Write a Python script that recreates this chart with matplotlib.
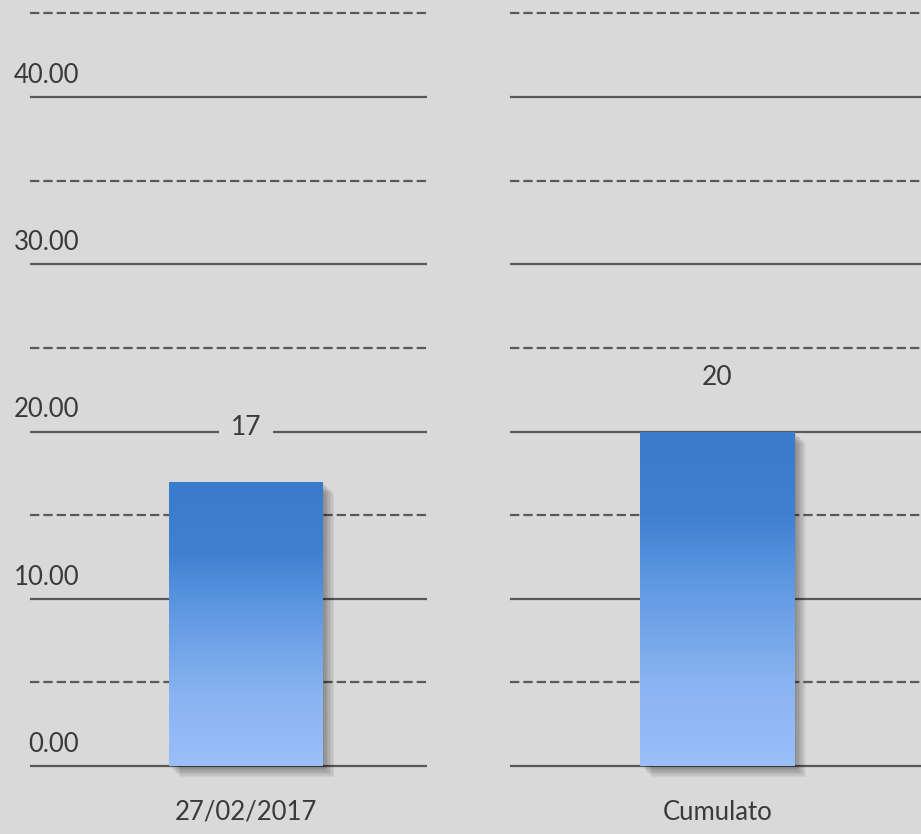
import numpy as np
import matplotlib
matplotlib.use("Agg")
import matplotlib.pyplot as plt
import matplotlib.patheffects as pe
from matplotlib.colors import LinearSegmentedColormap
from matplotlib.transforms import blended_transform_factory

# data
categories = ["27/02/2017", "Cumulato"]
values = [17, 20]
value_labels = ["17", "20"]
major_ticks = [0, 10, 20, 30, 40]
minor_ticks = [5, 15, 25, 35, 45]
tick_labels = ["0.00", "10.00", "20.00", "30.00", "40.00"]

BG = "#d9d9d9"
GRID = "#595959"
TXT = "#3a3a3a"
plt.rcParams["font.family"] = ["Lato", "DejaVu Sans"]

grad = LinearSegmentedColormap.from_list(
    "bar", [(0.0, "#9abff9"), (0.25, "#89b3f1"), (0.55, "#5e98e2"),
            (0.75, "#4080d1"), (1.0, "#3a7bcc")])

W, H = 921, 834
fig = plt.figure(figsize=(W / 100, H / 100), dpi=100, facecolor=BG)

# panel extents in pixels (left, right) and x-limits
panels = [(30, 427, (-0.841, 0.706)), (510, 921, (-0.808, 0.793))]
ylim = (-4.06, 45.8)

for i, (cat, val, lab) in enumerate(zip(categories, values, value_labels)):
    x0, x1, xl = panels[i]
    ax = fig.add_axes([x0 / W, 0, (x1 - x0) / W, 1])
    ax.patch.set_alpha(0)
    ax.set_xlim(*xl)
    ax.set_ylim(*ylim)
    for s in ax.spines.values():
        s.set_visible(False)
    ax.set_xticks([])
    ax.set_yticks([])

    for t in major_ticks:
        ax.axhline(t, color=GRID, lw=1.6, zorder=1)
    for t in minor_ticks:
        ax.axhline(t, color=GRID, lw=1.6, ls=(0, (4.2, 1.8)), zorder=1)

    # soft drop shadow
    shadows = [pe.SimplePatchShadow(offset=(d, -d), shadow_rgbFace="k", alpha=0.05)
               for d in (1, 2, 3, 4, 5, 6, 7, 8)]
    bar = ax.bar([0], [val], width=0.6, color="#3a7bcc", zorder=3,
                 path_effects=shadows + [pe.Normal()])[0]
    bx, bw, bh = bar.get_x(), bar.get_width(), bar.get_height()
    img = ax.imshow(np.linspace(1, 0, 256).reshape(-1, 1), cmap=grad, aspect="auto",
                    extent=(bx, bx + bw, 0, bh), zorder=4, vmin=0, vmax=1)
    img.set_clip_path(bar)

    ax.annotate(lab, (0, val), xytext=(0, 39), textcoords="offset points",
                ha="center", va="center", fontsize=19, color=TXT, zorder=5,
                bbox=dict(boxstyle="square,pad=0.45", fc=BG, ec="none"))

    ax.text(0, -2.75, cat, ha="center", va="center", fontsize=18.5, color=TXT)

    if i == 0:
        tr = blended_transform_factory(ax.transAxes, ax.transData)
        for t, tl in zip(major_ticks, tick_labels):
            ax.text((79 - x0) / (x1 - x0), t + 1.3, tl, transform=tr, ha="right",
                    va="center", fontsize=18.5, color=TXT, clip_on=False)

fig.savefig("out.png", dpi=100, facecolor=BG)
